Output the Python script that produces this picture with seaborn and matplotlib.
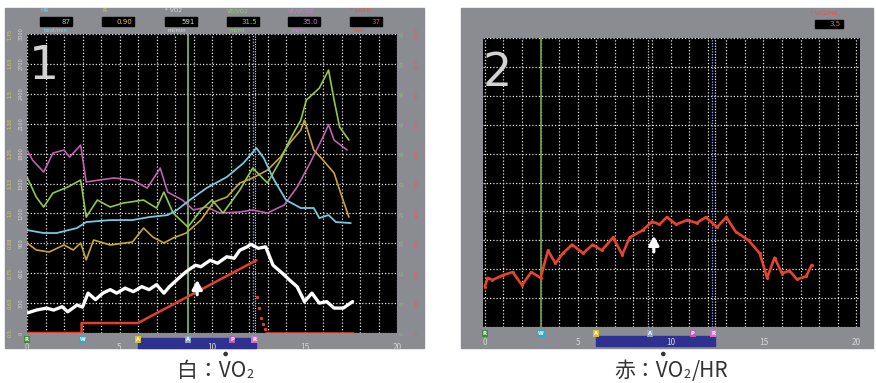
import numpy as np
import pandas as pd
import seaborn as sns
import matplotlib.pyplot as plt
import matplotlib.transforms as mtransforms
from matplotlib.patches import Rectangle, Ellipse

sns.set_theme(style='white')
plt.rcParams['font.family'] = ['Noto Sans CJK JP', 'DejaVu Sans']

# ---- panel 1 : time (min) and traces read on the 0-3000 left scale ----
vo2_t = [0, 0.5, 1.06, 1.44, 1.9, 2.2, 2.7, 3.0, 3.3, 3.7, 4.1, 4.5, 4.85, 5.3, 5.75, 6.2,
         6.6, 7.0, 7.4, 7.7, 8.2, 8.6, 9.1, 9.4, 9.9, 10.3, 10.8, 11.2, 11.5, 11.9, 12.1,
         12.5, 12.9, 13.3, 13.8, 14.2, 14.6, 15.0, 15.4, 15.8, 16.2, 16.6, 17.1, 17.6]
vo2 = [200, 230, 250, 230, 264, 213, 280, 260, 400, 335, 400, 435, 400, 450, 415, 465,
       435, 485, 400, 465, 550, 615, 680, 665, 730, 700, 765, 750, 830, 865, 890,
       850, 865, 680, 600, 530, 465, 315, 400, 300, 315, 250, 250, 315]

load_t = [0, 2.95, 2.95, 6.0, 12.4]
load = [0, 0, 100, 100, 730]
load_drop_t = [12.45, 12.55, 12.65, 12.75, 12.85]
load_drop = [360, 250, 150, 90, 40]
load_rest_t = [12.9, 17.6]
load_rest = [0, 0]

hr_t = [0, 0.9, 1.6, 2.7, 3.2, 4.5, 5.7, 6.6, 7.6, 8.1, 8.8, 9.7, 10.8, 11.7, 12.4,
        12.8, 13.3, 14.0, 14.8, 15.5, 15.8, 16.3, 16.7, 17.5]
hr = [1033, 1003, 1003, 1053, 1113, 1133, 1133, 1163, 1183, 1234, 1334, 1454, 1565, 1705,
      1856, 1755, 1555, 1334, 1254, 1254, 1153, 1183, 1113, 1103]

vevco2_t = [0, 0.3, 0.9, 1.4, 2.0, 2.3, 2.9, 3.2, 3.9, 4.7, 5.7, 6.5, 7.2, 7.6, 8.4, 9.0,
            9.7, 10.4, 11.5, 12.2, 13.0, 13.9, 14.6, 15.3, 16.0, 16.3, 16.6, 17.3]
vevco2 = [1836, 1735, 1615, 1805, 1836, 1765, 1886, 1515, 1535, 1555, 1535, 1454, 1655, 1414,
          1334, 1234, 1264, 1204, 1214, 1234, 1204, 1284, 1464, 1705, 1966, 2090, 1936, 1836]

vevo2_t = [0, 0.5, 0.9, 1.4, 2.2, 2.9, 3.2, 3.8, 4.5, 5.2, 6.3, 7.0, 7.4, 7.9, 8.7, 9.4,
           10.0, 10.6, 11.5, 12.2, 13.0, 13.7, 14.2, 14.8, 15.1, 15.8, 16.3, 16.6, 16.9, 17.4]
vevo2 = [1565, 1364, 1264, 1404, 1464, 1535, 1163, 1334, 1264, 1304, 1334, 1254, 1414, 1204,
         1063, 1234, 1334, 1204, 1434, 1655, 1505, 1735, 1936, 2136, 2337, 2457, 2638, 2337,
         2066, 1936]

r_t = [0, 0.5, 1.2, 2.0, 2.5, 2.9, 3.2, 3.6, 4.5, 5.7, 6.3, 6.8, 7.4, 7.9, 8.6, 9.4, 10.1,
       10.8, 11.5, 12.2, 13.0, 13.7, 14.2, 14.8, 15.0, 15.5, 16.0, 16.6, 16.9, 17.4]
r_vals = [903, 833, 813, 883, 833, 903, 733, 933, 883, 913, 1053, 963, 903, 953, 1003, 1133,
          1314, 1364, 1505, 1555, 1635, 1765, 1906, 2036, 2136, 1836, 1735, 1605, 1434, 1163]

# ---- panel 2 : VO2/HR (ml/beat) ----
vo2hr_t = [0, 0.15, 0.4, 1.0, 1.5, 2.0, 2.5, 3.0, 3.4, 3.8, 4.2, 4.7, 5.3, 5.8, 6.3, 6.9,
           7.4, 7.8, 8.5, 9.0, 9.4, 9.8, 10.3, 10.9, 11.4, 11.9, 12.5, 13.0, 13.5, 14.2,
           14.8, 15.2, 15.6, 16.0, 16.4, 16.8, 17.3, 17.6]
vo2hr = [2.8, 3.4, 3.25, 3.6, 3.8, 2.9, 3.8, 3.4, 5.3, 4.4, 5.1, 5.7, 5.1, 5.7, 5.3, 6.2,
         5.0, 6.2, 6.7, 7.3, 7.1, 7.6, 7.1, 7.4, 7.2, 7.6, 6.9, 7.6, 6.6, 6.0,
         5.1, 3.4, 4.8, 3.7, 3.9, 3.3, 3.5, 4.3]

# header read-outs
head_names = ['HR', 'R', '* VO2', 'VE/VO2', 'VE/VCO2', '* LOAD']
head_values = ['87', '0.90', '591', '31.5', '35.0', '37']
head_units = ['beat/min', '', 'ml/min', 'ml/ml', 'ml/ml', 'Watt']
head_colors = ['#7fd0e8', '#e0d050', '#dddddd', '#8fd060', '#d080d0', '#f05040']

# event markers below the time axis
ev1_t = [0, 3.0, 6.0, 8.7, 11.1, 12.3]
ev2_t = [0, 3.0, 6.0, 8.9, 11.2, 12.3]
ev_labels = ['R', 'W', 'A', 'A', 'P', 'R']
ev_colors = ['#3c8c3c', '#3aa6c6', '#d8c030', '#8da2c2', '#b860b0', '#d070c8']
ramp_span = (6.0, 12.4)

xticks = [0, 5, 10, 15, 20]
vo2_ticks = [0, 300, 600, 900, 1200, 1500, 1800, 2100, 2400, 2700, 3000]
r_ticks = ['0.5', '0.63', '0.75', '0.88', '1.0', '1.13', '1.25', '1.38', '1.5', '1.63', '1.75']

W, H = 876, 383
fig = plt.figure(figsize=(W / 100, H / 100), dpi=100)
fig.patch.set_facecolor('white')
gray = '#8a8c91'


def fx(px):
    return px / W


def fy(py):
    return 1 - py / H


# gray monitor frames
fig.add_artist(Rectangle((fx(5), fy(348)), fx(419), 340 / H, transform=fig.transFigure,
                         color=gray, zorder=0))
fig.add_artist(Rectangle((fx(461), fy(348)), fx(412), 340 / H, transform=fig.transFigure,
                         color=gray, zorder=0))

ax1 = fig.add_axes([fx(27), fy(333), fx(370), 299 / H])
ax2 = fig.add_axes([fx(483), fy(327), fx(377), 289 / H])


def style_axis(ax, xlim, ylim, ystep, pad):
    ax.set_facecolor('black')
    ax.set_xlim(*xlim)
    ax.set_ylim(*ylim)
    for s in ax.spines.values():
        s.set_visible(False)
    for t in np.arange(0, 21, 1):
        ax.axvline(t, color='#e6e6e6', lw=0.9, ls=(0, (1, 1.6)), zorder=1)
    for v in np.arange(ylim[0], ylim[1] + ystep / 2, ystep):
        ax.axhline(v, color='#e6e6e6', lw=0.9, ls=(0, (1, 1.6)), zorder=1)
    ax.set_xticks(xticks)
    ax.set_xticklabels([str(t) for t in xticks])
    ax.set_yticks([])
    ax.tick_params(axis='x', colors='#d4d4d4', labelsize=6, length=0, pad=pad)
    ax.set_xlabel('')
    ax.set_ylabel('')


style_axis(ax1, (0, 20), (0, 3000), 300, 7.5)
style_axis(ax2, (-0.1, 20.2), (0, 20), 2, 8.2)

# ---- panel 1 traces ----
ax1.axvline(8.7, color='#8fd07a', lw=1.1, zorder=2)
ax1.axvline(12.2, color='#9aa8ff', lw=1.0, ls=(0, (1, 1.2)), zorder=2)
ax1.axvline(12.35, color='#e0e0e0', lw=0.8, ls=(0, (1, 1.2)), zorder=2)

kw = dict(ax=ax1, estimator=None, sort=False, legend=False)
sns.lineplot(x=vevco2_t, y=vevco2, color='#c060b0', lw=1.2, zorder=3, **kw)
sns.lineplot(x=r_t, y=r_vals, color='#c8a636', lw=1.2, zorder=3, **kw)
sns.lineplot(x=vevo2_t, y=vevo2, color='#92c848', lw=1.2, zorder=3, **kw)
sns.lineplot(x=hr_t, y=hr, color='#78c8e0', lw=1.3, zorder=4, **kw)
sns.lineplot(x=load_t, y=load, color='#e0402c', lw=1.8, zorder=4, **kw)
sns.lineplot(x=load_rest_t, y=load_rest, color='#e0402c', lw=1.8, zorder=4, **kw)
sns.scatterplot(x=load_drop_t, y=load_drop, ax=ax1, color='#e0402c', s=6, linewidth=0,
                zorder=4, legend=False)
sns.lineplot(x=vo2_t, y=vo2, color='white', lw=2.4, zorder=5, **kw)
ax1.annotate('', xy=(9.2, 560), xytext=(9.2, 355),
             arrowprops=dict(arrowstyle='-|>,head_width=0.25,head_length=0.45',
                             color='white', lw=2.2), zorder=6)
ax1.text(0.004, 0.968, '1', transform=ax1.transAxes, color='#d2d2d2', fontsize=34,
         family=['Liberation Sans Narrow', 'DejaVu Sans'], va='top', ha='left', zorder=6)

# ---- panel 2 trace ----
ax2.axvline(3.0, color='#6e9a4c', lw=1.3, zorder=2)
ax2.axvline(8.8, color='#cfcfcf', lw=0.9, ls=(0, (1, 1.2)), zorder=2)
ax2.axvline(12.25, color='#9aa8ff', lw=0.9, ls=(0, (1, 1.2)), zorder=2)
ax2.axvline(12.4, color='#e8e8e8', lw=0.9, ls=(0, (1, 1.2)), zorder=2)
sns.lineplot(x=vo2hr_t, y=vo2hr, ax=ax2, color='#e8432c', lw=1.9, estimator=None, sort=False,
             marker='o', markersize=2.2, markeredgewidth=0, legend=False, zorder=4)
ax2.annotate('', xy=(9.1, 6.5), xytext=(9.1, 5.0),
             arrowprops=dict(arrowstyle='-|>,head_width=0.25,head_length=0.45',
                             color='white', lw=2.2), zorder=6)
ax2.text(0.0, 0.955, '2', transform=ax2.transAxes, color='#d2d2d2', fontsize=33,
         family=['Liberation Sans Narrow', 'DejaVu Sans'], va='top', ha='left', zorder=6)

# event markers and ramp bar under each time axis
for ax, ev_t, ey, bar in [(ax1, ev1_t, -0.022, (-0.05, -0.016)),
                          (ax2, ev2_t, -0.022, (-0.066, -0.031))]:
    tr = mtransforms.blended_transform_factory(ax.transData, ax.transAxes)
    ax.add_patch(Rectangle((ramp_span[0], bar[0]), ramp_span[1] - ramp_span[0],
                           bar[1] - bar[0], transform=tr, color='#2e3190', clip_on=False,
                           zorder=0.5))
    for t, lab, c in zip(ev_t, ev_labels, ev_colors):
        ax.text(t, ey, lab, transform=tr, fontsize=3.8, color='white', ha='center',
                va='center', family='DejaVu Sans', fontweight='bold', zorder=7,
                bbox=dict(boxstyle='square,pad=0.2', fc=c, ec='none'))

# side scales of panel 1
for v, rl in zip(vo2_ticks, r_ticks):
    y = fy(333) + v / 3000 * 299 / H
    fig.text(fx(10), y, rl, rotation=90, fontsize=3.6, color='#d8c860', ha='center',
             va='center', family='DejaVu Sans')
    fig.text(fx(21), y, str(v), rotation=90, fontsize=3.6, color='#d6d6d6', ha='center',
             va='center', family='DejaVu Sans')
for k, v in enumerate(vo2_ticks):
    y = fy(333) + v / 3000 * 299 / H
    fig.text(fx(402), y, str(k * 6), rotation=90, fontsize=3.6, color='#80c070',
             ha='center', va='center', family='DejaVu Sans')
    fig.text(fx(409), y, str(k * 6), rotation=90, fontsize=3.6, color='#b070c0',
             ha='center', va='center', family='DejaVu Sans')
    fig.text(fx(417), y, str(k * 100), rotation=90, fontsize=3.6, color='#e06060',
             ha='center', va='center', family='DejaVu Sans')

# header read-outs of panel 1
box_x = [40, 102, 165, 227, 288, 350]
for x0, name, val, unit, c in zip(box_x, head_names, head_values, head_units, head_colors):
    fig.text(fx(x0), fy(11), name, fontsize=4.2, color=c, family='DejaVu Sans',
             va='center', ha='left')
    fig.add_artist(Rectangle((fx(x0), fy(26)), fx(32), 9 / H, transform=fig.transFigure,
                             color='black', zorder=1))
    fig.text(fx(x0 + 30), fy(21.5), val, fontsize=5, color=c, family='DejaVu Sans',
             va='center', ha='right', zorder=2)
    fig.text(fx(x0 + 3), fy(30), unit, fontsize=3.8, color=c, family='DejaVu Sans',
             va='center', ha='left')

# header read-out of panel 2
fig.text(fx(810), fy(13), '* VO2/HR', fontsize=4.2, color='#f05040', family='DejaVu Sans',
         va='center', ha='left')
fig.add_artist(Rectangle((fx(815), fy(28)), fx(28), 8 / H, transform=fig.transFigure,
                         color='black', zorder=1))
fig.text(fx(841), fy(24), '3.5', fontsize=5, color='#f06050', family='DejaVu Sans',
         va='center', ha='right', zorder=2)

# captions: "白：VO2" / "赤：VO2/HR" with small subscript and the dot over V
renderer = fig.canvas.get_renderer()
cap_family = ['Noto Sans CJK JP', 'DejaVu Sans']


def width_of(s, size):
    tmp = fig.text(0, 0, s, fontsize=size, family=cap_family)
    w = tmp.get_window_extent(renderer).width
    tmp.remove()
    return w


def caption(xc, base, prefix, rest):
    parts = [(prefix + 'VO', 15, 0), ('2', 9, 1), (rest, 15, 0)]
    widths = [width_of(s, sz) if s else 0 for s, sz, _ in parts]
    x = xc - sum(widths) / 2
    wp = width_of(prefix, 15)
    wv = width_of(prefix + 'V', 15)
    vx = x + (wp + wv) / 2 + 1
    for (s, sz, dy), w in zip(parts, widths):
        if s:
            fig.text(fx(x), fy(base + dy), s, fontsize=sz, family=cap_family,
                     color='#333333', ha='left', va='baseline')
        x += w + (1 if sz == 9 else 0)
    fig.add_artist(Ellipse((fx(vx), fy(base - 23)), fx(3.2), 3.2 / H,
                           transform=fig.transFigure, color='#333333'))


caption(215, 377, '白：', '')
caption(671, 377, '赤：', '/HR')

fig.savefig('out.png', dpi=100, facecolor='white')
